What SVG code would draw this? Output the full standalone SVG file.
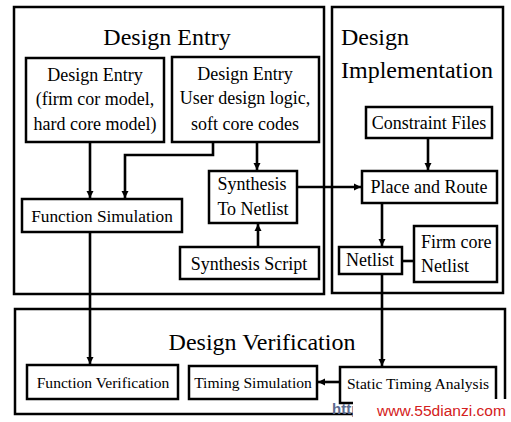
<svg xmlns="http://www.w3.org/2000/svg" width="511" height="422" viewBox="0 0 511 422">
<style>
.c{fill:none;stroke:#000;stroke-width:2.5}
.b{fill:#fff;stroke:#000;stroke-width:2.5}
.t{font-family:"Liberation Serif","Times New Roman",serif;font-size:18px;fill:#000;text-anchor:middle}
.l{text-anchor:start}
.h{font-family:"Liberation Serif","Times New Roman",serif;font-size:24px;fill:#000}
.s{font-size:15.6px}
.k{fill:none;stroke:#000;stroke-width:2.6}
</style>
<defs>
<marker id="a" markerUnits="userSpaceOnUse" markerWidth="8" markerHeight="8" refX="7" refY="4" orient="auto">
<path d="M0,0.5 L7,4 L0,7.5 Z" fill="#000"/>
</marker>
</defs>
<rect width="511" height="422" fill="#fff"/>
<g id="containers">
<rect id="entry-area" class="c" x="14" y="7" width="310" height="287"/>
<rect id="impl-area" class="c" x="332" y="7" width="171" height="286"/>
<rect id="verif-area" class="c" x="15" y="309" width="490" height="105"/>
<text class="h" x="167" y="45" text-anchor="middle">Design Entry</text>
<text class="h" x="341" y="45">Design</text>
<text class="h" x="341" y="78">Implementation</text>
<text class="h" x="262" y="350" text-anchor="middle">Design Verification</text>
</g>
<g id="connectors">
<path class="k" d="M90,142 V198" marker-end="url(#a)"/>
<path class="k" d="M213,142 V155 H125 V198" marker-end="url(#a)"/>
<path class="k" d="M257,142 V170" marker-end="url(#a)"/>
<path class="k" d="M258,247 V224" marker-end="url(#a)"/>
<path class="k" d="M297,187 H361" marker-end="url(#a)"/>
<path class="k" d="M428,138 V170" marker-end="url(#a)"/>
<path class="k" d="M382,203 V246" marker-end="url(#a)"/>
<path class="k" d="M402,261 H414"/>
<path class="k" d="M382,274 V366" marker-end="url(#a)"/>
<path class="k" d="M90,232 V364" marker-end="url(#a)"/>
<path class="k" d="M340,382 H318" marker-end="url(#a)"/>
</g>
<g id="entry-ip">
<rect class="b" x="26" y="58" width="138" height="84"/>
<text class="t" x="95" y="81">Design Entry</text>
<text class="t" x="95" y="105">(firm cor model,</text>
<text class="t" x="95" y="130">hard core model)</text>
</g>
<g id="entry-user">
<rect class="b" x="172" y="57" width="147" height="85"/>
<text class="t" x="245" y="80">Design Entry</text>
<text class="t" x="245" y="104">User design logic,</text>
<text class="t" x="245" y="130">soft core codes</text>
</g>
<g id="function-simulation">
<rect class="b" x="22" y="199" width="160" height="33"/>
<text class="t" x="102" y="222" style="font-size:17.3px">Function Simulation</text>
</g>
<g id="synthesis">
<rect class="b" x="209" y="171" width="88" height="52"/>
<text class="t" x="252" y="190">Synthesis</text>
<text class="t" x="253" y="215">To Netlist</text>
</g>
<g id="synthesis-script">
<rect class="b" x="180" y="247" width="139" height="32"/>
<text class="t" x="249" y="270">Synthesis Script</text>
</g>
<g id="constraint-files">
<rect class="b" x="366" y="107" width="126" height="31"/>
<text class="t" x="429" y="129">Constraint Files</text>
</g>
<g id="place-route">
<rect class="b" x="362" y="171" width="135" height="32"/>
<text class="t" x="429" y="193">Place and Route</text>
</g>
<g id="netlist">
<rect class="b" x="339" y="247" width="63" height="27"/>
<text class="t" x="370" y="266">Netlist</text>
</g>
<g id="firm-core-netlist">
<rect class="b" x="414" y="226" width="83" height="56"/>
<text class="t l" x="421" y="248">Firm core</text>
<text class="t l" x="421" y="272">Netlist</text>
</g>
<g id="function-verification">
<rect class="b" x="27" y="365" width="151" height="34"/>
<text class="t s" x="103" y="388">Function Verification</text>
</g>
<g id="timing-simulation">
<rect class="b" x="189" y="366" width="128" height="33"/>
<text class="t s" x="253" y="388">Timing Simulation</text>
</g>
<g id="static-timing">
<rect class="b" x="340" y="367" width="156" height="36"/>
<text class="t s" x="418" y="389">Static Timing Analysis</text>
</g>
<g id="watermark">
<text x="332" y="414" style="font-family:'Liberation Sans',Arial,sans-serif;font-size:15px;font-weight:bold;fill:#5b6b90">http</text>
<rect x="353" y="399" width="158" height="23" fill="#fff"/>
<text x="377" y="416" textLength="129" lengthAdjust="spacingAndGlyphs" style="font-family:'Liberation Sans',Arial,sans-serif;font-size:14px;fill:#d42020">www.55dianzi.com</text>
</g>
</svg>
